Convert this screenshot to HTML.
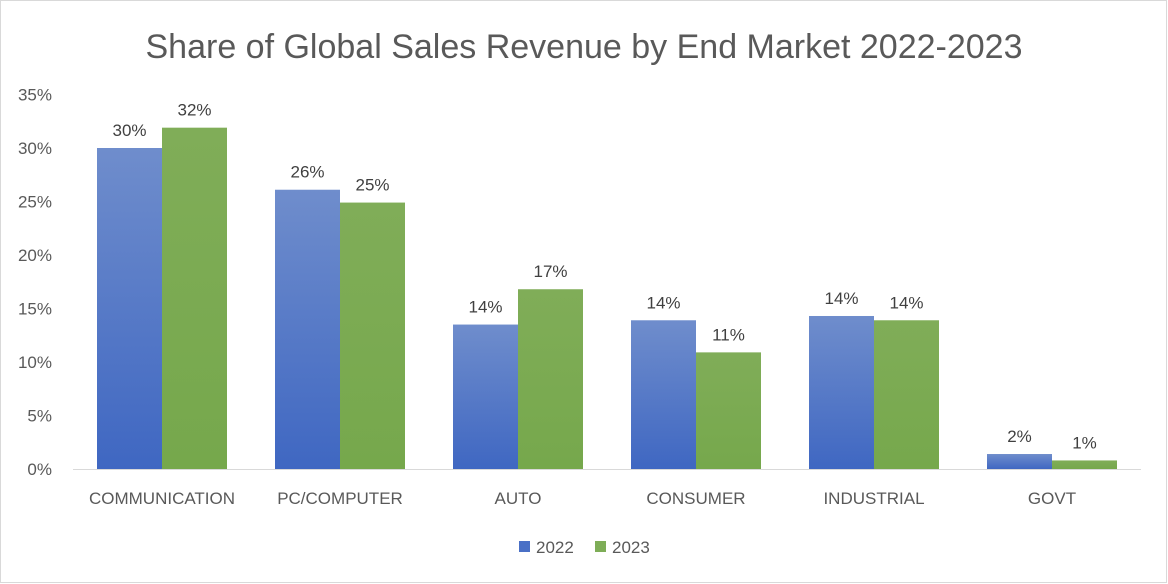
<!DOCTYPE html>
<html><head><meta charset="utf-8"><style>
body{margin:0;background:#fff;}
svg{display:block;font-family:"Liberation Sans",sans-serif;}
</style></head><body>
<svg id="chart" width="1168" height="584">
<defs>
<linearGradient id="gb" x1="0" y1="0" x2="0" y2="1"><stop offset="0" stop-color="#6f8dcc"/><stop offset="1" stop-color="#3f67c2"/></linearGradient>
<linearGradient id="gg" x1="0" y1="0" x2="0" y2="1"><stop offset="0" stop-color="#80ad58"/><stop offset="1" stop-color="#76a84c"/></linearGradient>
</defs>
<rect x="0.5" y="0.5" width="1166" height="582" fill="#fff" stroke="#d9d9d9"/>
<text x="584" y="58" text-anchor="middle" font-size="34" fill="#595959">Share of Global Sales Revenue by End Market 2022-2023</text>
<g id="plot"></g>
<g>
<rect x="519" y="541" width="11" height="11" fill="#4a70c6"/>
<text x="536" y="553" font-size="17" fill="#595959">2022</text>
<rect x="595" y="541" width="11" height="11" fill="#7ead57"/>
<text x="612" y="553" font-size="17" fill="#595959">2023</text>
</g>
</svg>
<script>
const categories=["COMMUNICATION","PC/COMPUTER","AUTO","CONSUMER","INDUSTRIAL","GOVT"];
const values2022=[30,26.1,13.5,13.9,14.3,1.4];
const values2023=[31.9,24.9,16.8,10.9,13.9,0.8];
const labels2022=["30%","26%","14%","14%","14%","2%"];
const labels2023=["32%","25%","17%","11%","14%","1%"];
const yTicks=[0,5,10,15,20,25,30,35];
const ns="http://www.w3.org/2000/svg";
const g=document.getElementById('plot');
const x0=73,x1=1141,y0=469,pxPer=10.7;
const y=v=>y0-v*pxPer;
const band=(x1-x0)/categories.length;
const cx=i=>x0+band*(i+0.5);
const bw=65;
function mk(t,a){const e=document.createElementNS(ns,t);for(const k in a)e.setAttribute(k,a[k]);g.appendChild(e);return e;}
yTicks.forEach(t=>{
 const e=mk('text',{x:52,y:y(t)+6,'text-anchor':'end','font-size':17,fill:'#595959'});
 e.textContent=t+'%';
 
 
});
categories.forEach((c,i)=>{
 const b1=mk('rect',{x:cx(i)-bw,y:y(values2022[i]),width:bw,height:y0-y(values2022[i]),fill:'url(#gb)'});
 
 
 const b2=mk('rect',{x:cx(i),y:y(values2023[i]),width:bw,height:y0-y(values2023[i]),fill:'url(#gg)'});
 
 
 const l1=mk('text',{x:cx(i)-bw/2,y:y(values2022[i])-12,'text-anchor':'middle','font-size':17,fill:'#404040'});
 l1.textContent=labels2022[i];
 
 
 const l2=mk('text',{x:cx(i)+bw/2,y:y(values2023[i])-12,'text-anchor':'middle','font-size':17,fill:'#404040'});
 l2.textContent=labels2023[i];
 
 
 const cl=mk('text',{x:cx(i),y:504,'text-anchor':'middle','font-size':17,fill:'#595959'});
 cl.textContent=c;
 
 
});
const ax=mk('line',{x1:x0,x2:x1,y1:y0+0.5,y2:y0+0.5,stroke:'#d9d9d9','stroke-width':1});


</script>
</body></html>
